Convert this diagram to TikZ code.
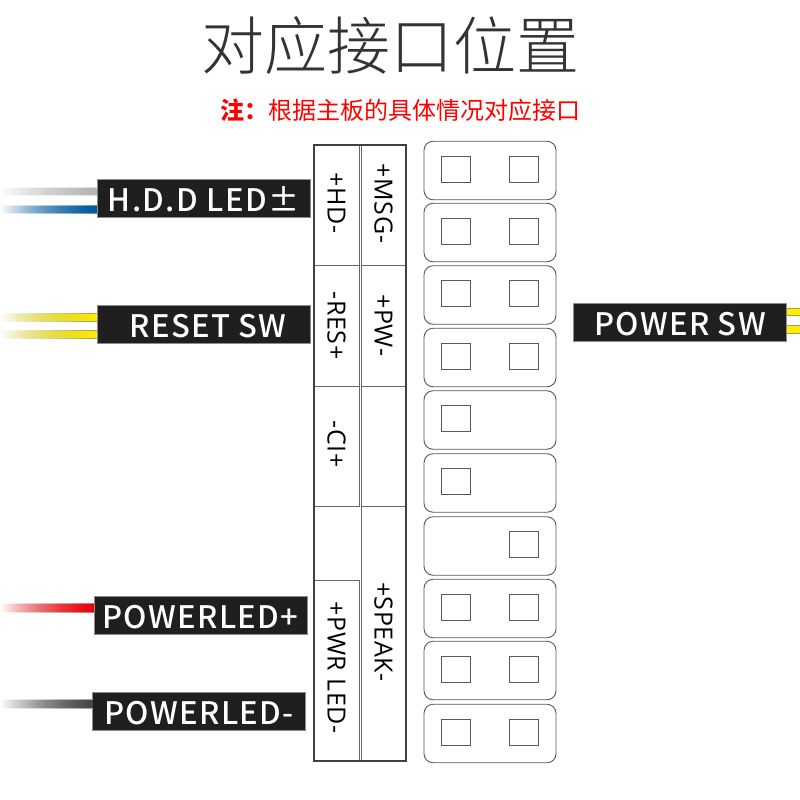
\documentclass[tikz,border=0pt]{standalone}
\usepackage{fontspec}
\usetikzlibrary{fadings}
\setmainfont[LetterSpace=2.5]{Open Sans}
\newfontfamily\cjkfont{Noto Sans CJK SC}
\newfontfamily\titlefont[UprightFont={* Light}]{Noto Sans CJK SC}
\newfontfamily\tagfont[LetterSpace=4.5,UprightFont={* Medium}]{Noto Sans CJK SC}
\tikzfading[name=wirefade, left color=transparent!100, middle color=transparent!0, right color=transparent!0]
\definecolor{wiregray}{HTML}{B4B4B4}
\definecolor{wiregrayedge}{HTML}{E0E0E0}
\definecolor{wireblue}{HTML}{005AA0}
\definecolor{wireblueedge}{HTML}{5C8FBC}
\definecolor{wireyellow}{HTML}{FFEE00}
\definecolor{wireyellowedge}{HTML}{A8A040}
\definecolor{wirered}{HTML}{F00008}
\definecolor{wirerededge}{HTML}{C07070}
\definecolor{wireblack}{HTML}{444444}
\definecolor{wireblackedge}{HTML}{A0A0A0}

\begin{document}
\begin{tikzpicture}[x=1pt,y=-1pt]
\tikzstyle{every node}=[outer sep=0pt, inner sep=0pt]
\tikzstyle{tagbox}=[fill=black!88, draw=black!45, line width=0.6pt, text=white, minimum width=213pt, minimum height=38pt, text height=26pt, text depth=0pt, font=\tagfont\fontsize{31}{31}\selectfont]
\tikzstyle{cell}=[draw=black!60, line width=1pt, rotate=-90, font=\fontsize{25}{25}\selectfont, minimum height=45pt]
\tikzstyle{row}=[draw=black!65, line width=0.9pt, rounded corners=9pt, minimum width=132pt, minimum height=58.5pt]
\tikzstyle{hole}=[draw=black!65, line width=1pt, minimum width=29pt, minimum height=26pt]
\useasboundingbox (0,0) rectangle (800,800);
\fill[white] (0,0) rectangle (800,800);

\node[font=\titlefont\fontsize{63}{63}\selectfont, text=black!80] (title) at (390,46) {对应接口位置};
\node[font=\cjkfont\fontsize{24}{24}\selectfont, text=red] (note) at (400,110) {\textbf{注{\char"FF1A}}根据主板的具体情况对应接口};

\node[tagbox] (hdd) at (203.5,198.5) {H.D.D LED±};
\node[tagbox] (reset) at (203.5,324) {\hspace*{9pt}RESET SW};
\node[tagbox] (power) at (680,322.5) {POWER SW};
\node[tagbox] (ledp) at (200.5,615.5) {POWERLED+};
\node[tagbox] (ledm) at (199,711.5) {POWERLED-};

\foreach \tag/\ya/\yb/\core/\edge in {hdd/187/196/wiregray/wiregrayedge, hdd/205/214/wireblue/wireblueedge, reset/313/322/wireyellow/wireyellowedge, reset/330/339/wireyellow/wireyellowedge, ledp/603/613/wirered/wirerededge, ledm/699/709/wireblack/wireblackedge}{
	\fill[\edge, path fading=wirefade] (0,\ya) rectangle (\tag.west |- 0,\yb);
	\fill[\core, path fading=wirefade] (0,\ya+1.3) rectangle (\tag.west |- 0,\yb-1.3);
}
\foreach \ya/\yb in {308/316, 325/334}{
	\fill[wireyellowedge] (power.east |- 0,\ya) rectangle (800,\yb);
	\fill[wireyellow] (power.east |- 0,\ya+1.3) rectangle (800,\yb-1.3);
}

\node[cell, minimum width=120pt] (hd) at (336.5,205) {+HD-\hspace*{4pt}};
\node[cell, minimum width=121pt] (res) at (336.5,325.5) {-RES+};
\node[cell, minimum width=120pt] (ci) at (336.5,446) {-CI+\hspace*{4pt}};
\node[cell, minimum width=181pt] (pwr) at (336.5,670.5) {+PWR LED-\hspace*{6pt}};
\node[cell, minimum width=120pt] (msg) at (383.5,205) {+MSG-\hspace*{3pt}};
\node[cell, minimum width=121pt] (pw) at (383.5,325.5) {+PW-};
\node[cell, minimum width=120pt] (blank) at (383.5,446) {};
\node[cell, minimum width=255pt] (speak) at (383.5,633.5) {+SPEAK-\hspace*{3pt}};
\node[draw=black!75, line width=2pt, minimum width=92pt, minimum height=616pt] (frame) at (360,453) {};

\foreach \i/\y/\l/\r in {1/170.5/1/1, 2/232.5/1/1, 3/295/1/1, 4/357.5/1/1, 5/420/1/0, 6/483/1/0, 7/546/0/1, 8/608.5/1/1, 9/670.5/1/1, 10/733.5/1/1}{
	\node[row] (row\i) at (490,\y) {};
	\ifnum\l=1 \node[hole] (left\i) at (456,\y-1.5) {}; \fi
	\ifnum\r=1 \node[hole] (right\i) at (524,\y-1.5) {}; \fi
}
\end{tikzpicture}
\end{document}
